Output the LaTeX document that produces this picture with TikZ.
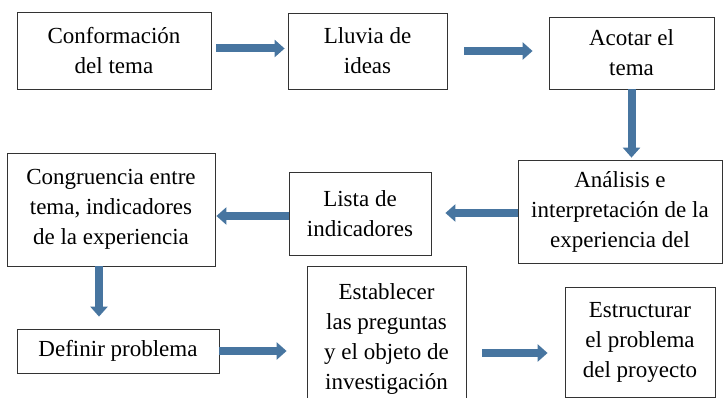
\documentclass[tikz,border=0pt]{standalone}
\usepackage{fontspec}
\setmainfont{Liberation Serif}
\usepackage{xcolor}
\usetikzlibrary{arrows.meta,positioning}

\definecolor{flowblue}{RGB}{71,117,160}

\tikzset{
  stepbox/.style={draw=black!80, line width=0.8pt, align=center, inner sep=0pt,
    font=\fontsize{23}{30}\selectfont},
  flow/.style={draw=flowblue, line width=8pt,
    -{Triangle[width=17pt,length=10pt]}}
}

\begin{document}
\begin{tikzpicture}[x=1pt,y=-1pt]
\useasboundingbox (0,0) rectangle (723,398);
\clip (0,0) rectangle (723,398);

% first row
\node (conf) at (114,50.5) [stepbox, minimum width=194pt, minimum height=77pt] {Conformación\\del tema};
\node (lluvia) at (367.5,51) [stepbox, minimum width=159pt, minimum height=76pt] {Lluvia de\\ideas};
\node (acotar) at (631.5,53) [stepbox, minimum width=165pt, minimum height=72pt] {Acotar el\\tema};

% second row
\node (analisis) at (620,211.5) [stepbox, minimum width=204pt, minimum height=103pt] {Análisis e\\interpretación de la\\experiencia del};
\node (lista) at (360,213.5) [stepbox, minimum width=142pt, minimum height=83pt] {Lista de\\indicadores};
\node (congr) at (111,209.5) [stepbox, minimum width=208pt, minimum height=113pt] {Congruencia entre\\tema, indicadores\\de la experiencia};

% third row
\node (definir) at (118,351) [stepbox, minimum width=202pt, minimum height=44pt] {Definir problema};
\node (establ) at (386.5,266) [stepbox, anchor=north, minimum width=159pt, inner ysep=17pt] {Establecer\\las preguntas\\y el objeto de\\investigación};
\node (estruc) at (640,342) [stepbox, minimum width=150pt, minimum height=110pt] {Estructurar\\el problema\\del proyecto};

% arrows
\draw [flow, shorten <=5pt, shorten >=3pt] ([yshift=2pt]conf.east) -- ([yshift=2pt]conf.east -| lluvia.west);
\draw [flow, shorten <=17pt, shorten >=16pt] (lluvia.east) -- (lluvia.east -| acotar.west);
\draw [flow, shorten >=2pt] (acotar.south) -- (analisis.north -| acotar.south);
\draw [flow, shorten >=14pt] ([yshift=-1.5pt]analisis.west) -- ([yshift=-1.5pt]analisis.west -| lista.east);
\draw [flow, shorten >=1pt] ([yshift=-2.5pt]lista.west) -- ([yshift=-2.5pt]lista.west -| congr.east);
\draw [flow, shorten >=12pt] ([xshift=-12pt]congr.south) -- ([xshift=-12pt]congr.south |- definir.north);
\draw [flow, shorten >=20pt] (definir.east) -- (definir.east -| establ.west);
\draw [flow, shorten <=16pt, shorten >=17pt] ([yshift=-2pt]definir.east -| establ.east) -- ([yshift=-2pt]definir.east -| estruc.west);
\end{tikzpicture}
\end{document}
